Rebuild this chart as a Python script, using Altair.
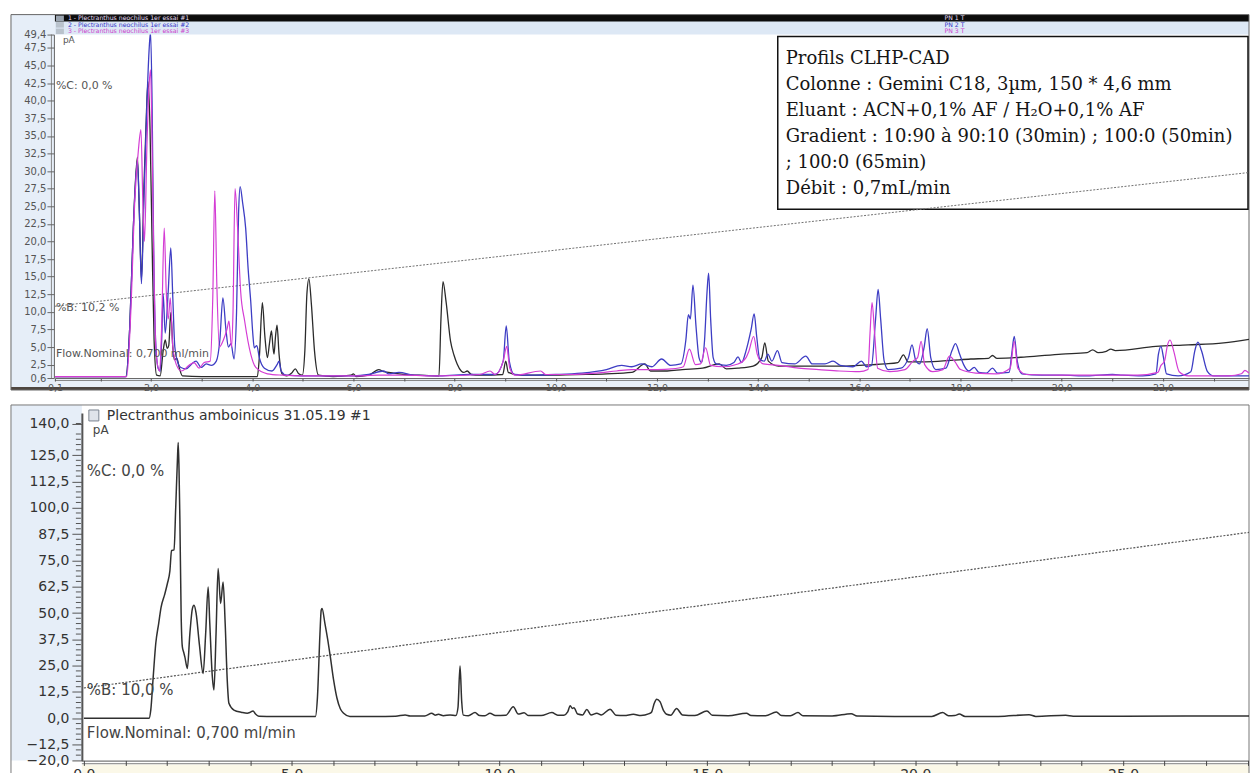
import altair as alt
import pandas as pd

# ---------------------------------------------------------------------------
# Plectranthus neochilus, 1er essai : three injections (time in min, signal in pA)
# ---------------------------------------------------------------------------
pn1 = [(0.1, 0.8), (1.0, 0.8), (1.50, 0.8), (1.58, 8.0), (1.65, 22.0), (1.73, 32.0), (1.77, 24.0),
       (1.81, 14.5), (1.86, 28.0), (1.91, 38.5), (1.94, 42.7), (1.98, 36.0), (2.02, 20.0), (2.06, 6.0),
       (2.11, 1.0), (2.18, 0.9), (2.24, 4.5), (2.28, 6.0), (2.32, 4.8), (2.35, 5.2), (2.39, 9.9),
       (2.43, 5.0), (2.46, 3.2), (2.51, 3.4), (2.56, 2.0), (2.62, 0.9), (3.0, 0.8), (3.6, 0.8),
       (4.10, 0.8), (4.14, 3.5), (4.20, 11.3), (4.25, 6.5), (4.30, 3.5), (4.34, 5.5), (4.38, 7.3),
       (4.41, 5.0), (4.43, 4.0), (4.46, 6.5), (4.49, 8.1), (4.53, 4.0), (4.59, 1.2), (4.68, 0.9),
       (4.78, 1.3), (4.85, 1.9), (4.92, 1.2), (4.99, 1.0), (5.04, 4.5), (5.08, 12.5), (5.12, 14.7),
       (5.17, 11.0), (5.23, 4.5), (5.31, 1.0), (5.6, 0.8), (5.95, 1.0), (6.0, 1.2), (6.05, 0.8),
       (6.3, 1.0), (6.5, 1.8), (6.6, 1.5), (6.8, 1.3), (7.0, 1.1), (7.3, 1.0), (7.69, 0.9),
       (7.73, 9.0), (7.77, 14.3), (7.83, 11.5), (7.92, 5.8), (7.99, 3.8), (8.05, 2.6), (8.13, 1.6),
       (8.18, 1.4), (8.25, 1.6), (8.33, 1.1), (8.5, 1.0), (8.95, 1.1), (9.01, 3.0), (9.06, 1.4),
       (9.3, 1.0), (9.8, 1.0), (10.4, 1.1), (11.0, 1.2), (11.5, 1.4), (11.76, 2.6), (11.87, 1.6),
       (12.2, 1.6), (12.5, 1.8), (12.9, 2.0), (13.23, 2.6), (13.37, 1.9), (13.6, 2.0), (13.9, 2.3),
       (14.07, 3.5), (14.13, 5.6), (14.20, 3.0), (14.4, 2.3), (14.8, 2.3), (15.2, 2.3), (15.6, 2.3),
       (16.0, 2.4), (16.5, 2.6), (16.76, 2.8), (16.87, 3.9), (16.96, 2.9), (17.3, 2.9), (17.8, 3.1),
       (18.2, 3.3), (18.55, 3.4), (18.63, 3.8), (18.72, 3.4), (19.3, 3.6), (20.0, 4.0), (20.5, 4.2),
       (20.61, 4.6), (20.72, 4.2), (20.88, 4.4), (20.97, 4.7), (21.06, 4.5), (21.86, 5.1),
       (22.5, 5.3), (23.2, 5.6), (23.7, 6.1)]

pn2 = [(0.1, 0.8), (1.50, 0.8), (1.58, 8.0), (1.65, 22.0), (1.73, 31.5), (1.77, 24.0), (1.81, 14.0),
       (1.86, 26.0), (1.92, 40.0), (1.96, 47.0), (1.99, 49.8), (2.02, 40.0), (2.05, 20.0), (2.09, 6.0),
       (2.14, 2.0), (2.18, 1.6), (2.21, 6.0), (2.24, 12.5), (2.28, 7.0), (2.34, 13.0), (2.39, 19.1),
       (2.43, 12.0), (2.47, 5.0), (2.52, 3.0), (2.59, 2.1), (2.69, 1.9), (2.79, 2.5), (2.89, 3.0),
       (2.99, 2.1), (3.09, 2.6), (3.19, 2.4), (3.29, 3.0), (3.36, 6.0), (3.42, 12.0), (3.48, 7.5),
       (3.53, 5.0), (3.58, 5.5), (3.64, 3.3), (3.69, 10.0), (3.73, 24.0), (3.76, 27.8), (3.81, 25.5),
       (3.87, 21.9), (3.92, 16.0), (3.97, 11.5), (4.01, 7.0), (4.04, 4.9), (4.09, 5.2), (4.14, 3.5),
       (4.24, 2.0), (4.39, 1.6), (4.49, 2.5), (4.53, 3.0), (4.57, 1.6), (4.68, 1.0), (5.0, 0.9),
       (6.0, 0.9), (6.3, 1.1), (6.6, 1.6), (6.7, 1.2), (6.9, 1.4), (7.2, 1.0), (7.7, 0.9), (8.3, 1.1),
       (8.8, 1.1), (8.96, 3.0), (9.02, 8.0), (9.08, 3.0), (9.18, 1.1), (9.5, 1.0), (10.0, 1.1),
       (10.5, 1.3), (11.0, 1.8), (11.3, 2.4), (11.5, 2.2), (11.7, 2.6), (11.9, 2.2), (12.09, 3.3),
       (12.27, 2.4), (12.47, 2.6), (12.57, 6.0), (12.62, 9.6), (12.66, 9.0), (12.71, 13.8),
       (12.77, 8.0), (12.83, 3.5), (12.88, 2.8), (12.94, 6.0), (12.99, 13.0), (13.02, 15.5),
       (13.06, 9.0), (13.11, 3.5), (13.17, 2.6), (13.37, 2.4), (13.52, 2.8), (13.60, 3.6),
       (13.67, 2.8), (13.76, 4.5), (13.80, 5.6), (13.86, 7.5), (13.92, 9.7), (13.97, 6.5),
       (14.03, 3.3), (14.12, 3.0), (14.19, 4.0), (14.27, 3.0), (14.38, 4.5), (14.47, 2.8),
       (14.72, 2.6), (14.94, 3.7), (15.07, 2.6), (15.32, 2.6), (15.48, 3.0), (15.62, 2.4),
       (15.87, 2.2), (16.04, 3.0), (16.14, 2.2), (16.24, 2.4), (16.32, 9.0), (16.37, 13.2),
       (16.42, 9.0), (16.49, 3.0), (16.57, 1.8), (16.82, 2.0), (16.97, 3.5), (17.04, 5.3),
       (17.11, 3.2), (17.19, 2.6), (17.28, 5.0), (17.34, 7.6), (17.41, 3.5), (17.51, 1.8),
       (17.71, 2.0), (17.83, 4.5), (17.90, 5.5), (17.98, 4.0), (18.06, 2.5), (18.16, 1.6),
       (18.27, 2.1), (18.36, 1.4), (18.51, 1.3), (18.63, 2.0), (18.73, 1.3), (18.96, 1.4),
       (19.01, 4.0), (19.06, 6.5), (19.12, 3.0), (19.21, 1.2), (19.6, 1.0), (20.0, 1.0), (20.5, 0.9),
       (21.0, 1.1), (21.2, 1.0), (21.6, 0.9), (21.86, 1.2), (21.91, 4.0), (21.96, 5.1), (22.01, 3.5),
       (22.07, 1.2), (22.3, 0.9), (22.55, 1.5), (22.63, 4.5), (22.69, 5.7), (22.76, 4.5),
       (22.88, 1.5), (23.0, 0.9), (23.7, 0.9)]

pn3 = [(0.1, 0.8), (1.52, 0.8), (1.60, 10.0), (1.68, 26.0), (1.75, 33.0), (1.80, 35.9), (1.84, 25.0),
       (1.87, 20.0), (1.92, 34.0), (1.96, 42.0), (1.99, 44.4), (2.02, 34.0), (2.06, 15.0), (2.10, 4.0),
       (2.17, 1.6), (2.21, 8.0), (2.26, 21.9), (2.30, 13.0), (2.34, 9.0), (2.38, 12.0), (2.43, 5.0),
       (2.50, 2.5), (2.60, 1.6), (2.75, 2.4), (2.85, 2.8), (2.95, 2.0), (3.05, 2.8), (3.17, 3.0),
       (3.22, 12.0), (3.26, 27.2), (3.30, 14.0), (3.35, 5.0), (3.43, 6.0), (3.50, 7.5), (3.54, 8.7),
       (3.59, 5.0), (3.62, 10.0), (3.66, 27.5), (3.71, 22.0), (3.77, 13.0), (3.85, 8.7), (3.97, 4.0),
       (4.07, 2.1), (4.3, 1.2), (4.6, 1.0), (5.0, 0.9), (6.0, 0.9), (6.5, 1.0), (7.0, 1.0), (7.7, 0.9),
       (8.5, 1.1), (8.7, 1.6), (8.8, 1.1), (8.96, 3.0), (9.03, 5.1), (9.09, 2.0), (9.2, 1.0),
       (9.7, 1.6), (9.8, 1.1), (10.3, 1.1), (10.8, 1.3), (11.2, 1.6), (11.5, 1.8), (12.0, 1.8),
       (12.3, 1.9), (12.52, 2.2), (12.64, 4.7), (12.76, 2.5), (12.86, 2.6), (12.96, 4.9),
       (13.06, 2.4), (13.3, 2.2), (13.6, 2.6), (13.76, 3.5), (13.81, 4.3), (13.91, 6.5), (13.98, 4.0),
       (14.1, 2.6), (14.4, 2.4), (14.8, 2.0), (15.2, 1.8), (15.6, 1.6), (16.0, 1.5), (16.17, 1.8),
       (16.21, 7.0), (16.25, 11.3), (16.30, 7.0), (16.36, 2.0), (16.6, 1.5), (16.9, 1.8),
       (17.06, 3.0), (17.15, 3.5), (17.22, 5.8), (17.29, 2.5), (17.45, 1.5), (17.65, 1.8),
       (17.78, 3.7), (17.88, 3.0), (18.0, 1.8), (18.3, 1.3), (18.7, 1.2), (18.98, 2.0), (19.06, 5.8),
       (19.13, 2.0), (19.3, 1.1), (20.0, 1.0), (20.8, 1.0), (21.5, 1.0), (21.9, 1.4), (21.96, 2.4),
       (22.03, 3.0), (22.09, 5.3), (22.14, 6.0), (22.21, 4.5), (22.32, 1.5), (22.5, 0.9),
       (23.3, 0.9), (23.55, 1.2), (23.62, 1.7), (23.7, 1.3)]

# %B gradient trace, drawn on the pA scale
grad_pn = [(0.1, 10.8), (23.7, 29.8)]

# ---------------------------------------------------------------------------
# Plectranthus amboinicus 31.05.19 #1
# ---------------------------------------------------------------------------
pa = [(0.0, 0.0), (1.0, 0.0), (1.57, 0.0), (1.61, 3.9), (1.67, 20.0), (1.73, 35.5), (1.80, 45.0),
      (1.86, 52.9), (1.94, 58.5), (2.01, 64.0), (2.07, 70.0), (2.11, 79.7), (2.17, 80.0),
      (2.21, 100.0), (2.25, 122.0), (2.27, 131.0), (2.29, 118.0), (2.31, 95.0), (2.34, 50.0),
      (2.37, 33.9), (2.40, 31.5), (2.43, 29.2), (2.49, 23.7), (2.55, 40.0), (2.61, 52.0),
      (2.65, 53.7), (2.70, 50.0), (2.78, 35.0), (2.87, 21.3), (2.93, 40.0), (2.99, 62.3),
      (3.03, 45.0), (3.09, 20.0), (3.13, 13.4), (3.18, 40.0), (3.23, 71.1), (3.29, 54.5),
      (3.35, 64.7), (3.40, 45.0), (3.45, 18.0), (3.49, 7.1), (3.61, 3.9), (3.80, 2.8), (3.93, 2.4),
      (4.00, 2.8), (4.07, 3.5), (4.13, 2.0), (4.21, 1.0), (4.6, 0.8), (5.0, 0.8), (5.57, 0.8),
      (5.62, 10.0), (5.68, 40.0), (5.71, 51.3), (5.73, 52.1), (5.80, 45.0), (5.87, 37.0),
      (5.93, 29.2), (6.01, 18.0), (6.09, 9.5), (6.17, 4.5), (6.25, 2.4), (6.4, 0.9), (7.0, 0.9),
      (7.5, 1.0), (7.73, 1.6), (7.85, 1.1), (8.2, 1.1), (8.37, 2.4), (8.45, 1.5), (8.53, 1.9),
      (8.65, 1.2), (8.81, 1.6), (8.95, 1.3), (9.00, 5.0), (9.05, 24.8), (9.09, 8.0), (9.13, 1.5),
      (9.25, 1.2), (9.41, 2.7), (9.52, 1.3), (9.65, 1.2), (9.77, 2.4), (9.90, 1.3), (10.15, 1.4),
      (10.33, 5.5), (10.45, 2.0), (10.59, 2.6), (10.70, 1.3), (11.0, 1.3), (11.26, 2.7),
      (11.40, 1.5), (11.55, 1.5), (11.64, 3.0), (11.70, 6.0), (11.75, 4.7), (11.79, 5.0),
      (11.88, 2.0), (12.00, 1.6), (12.10, 4.2), (12.20, 1.6), (12.34, 2.4), (12.45, 1.6),
      (12.66, 4.3), (12.80, 1.5), (13.00, 1.3), (13.22, 1.9), (13.40, 1.3), (13.60, 2.2),
      (13.66, 3.0), (13.72, 7.0), (13.78, 9.1), (13.86, 7.9), (13.95, 3.5), (14.02, 1.9),
      (14.12, 1.5), (14.26, 4.6), (14.40, 1.6), (14.70, 1.3), (14.99, 3.5), (15.12, 1.4),
      (15.50, 1.2), (15.94, 2.4), (16.05, 1.3), (16.40, 1.2), (16.66, 3.0), (16.78, 1.3),
      (17.00, 1.2), (17.18, 2.7), (17.30, 1.2), (18.0, 1.1), (18.46, 2.2), (18.6, 1.1), (19.5, 0.9),
      (20.4, 0.9), (20.66, 2.7), (20.80, 1.2), (20.95, 1.3), (21.06, 2.0), (21.2, 0.9), (22.0, 0.9),
      (22.74, 1.7), (22.9, 0.9), (23.62, 1.4), (23.8, 1.0), (25.0, 1.0), (26.5, 1.1), (28.03, 1.1)]

grad_pa = [(0.0, 14.4), (28.03, 88.3)]

# axis tick values
top_x_ticks = [0.1] + list(range(1, 24))
top_y_ticks = [0.6, 2.5, 5.0, 7.5, 10.0, 12.5, 15.0, 17.5, 20.0, 22.5, 25.0, 27.5, 30.0,
               32.5, 35.0, 37.5, 40.0, 42.5, 45.0, 47.5, 49.4]
bot_x_ticks = list(range(0, 29))
bot_y_ticks = [-20.0, -12.5, 0.0, 12.5, 25.0, 37.5, 50.0, 62.5, 75.0, 87.5, 100.0, 112.5, 125.0, 140.0]
bot_y_minor = [v / 2 for v in range(-35, 281, 5) if (v / 2) % 12.5 != 0]

legend_rows = ["1 - Plectranthus neochilus 1er essai #1",
               "2 - Plectranthus neochilus 1er essai #2",
               "3 - Plectranthus neochilus 1er essai #3"]
legend_tags = ["PN 1 T", "PN 2 T", "PN 3 T"]

info_lines = ["Profils CLHP-CAD",
              "Colonne : Gemini C18, 3µm, 150 * 4,6 mm",
              "Eluant : ACN+0,1% AF / H₂O+0,1% AF",
              "Gradient : 10:90 à 90:10 (30min) ; 100:0 (50min)",
              "; 100:0 (65min)",
              "Débit : 0,7mL/min"]

# ---------------------------------------------------------------------------
C_BLACK, C_BLUE, C_MAG = "#2b2b2b", "#3d3dc4", "#d43cd4"
SANS = "DejaVu Sans"
W = 1196
H_TOP, H_BOT = 344, 348
one = pd.DataFrame({"k": [0]})
comma = "replace(format(datum.value, '.1f'), '.', ',')"


def box(x, x2, y, y2, fill=None, stroke=None, sw=1.0):
    kw = {"strokeWidth": sw}
    if fill is None:
        kw["fillOpacity"] = 0
    else:
        kw["fill"] = fill
    if stroke is not None:
        kw["stroke"] = stroke
    else:
        kw["strokeWidth"] = 0
    return alt.Chart(one).mark_rect(**kw).encode(
        x=alt.value(x), x2=alt.value(x2), y=alt.value(y), y2=alt.value(y2))


def note(txt, x, y, size, color="#444", font=SANS, align="left"):
    return alt.Chart(one).mark_text(text=txt, align=align, baseline="middle", fontSize=size,
                                    font=font, color=color).encode(x=alt.value(x), y=alt.value(y))


def curve(points, color, xs, ys, ax_x, ax_y, width=1.3, dash=None):
    df = pd.DataFrame(points, columns=["t", "pa"])
    kw = dict(color=color, strokeWidth=width, clip=True)
    if dash:
        kw["strokeDash"] = dash
    else:
        kw["interpolate"] = "monotone"
    return alt.Chart(df).mark_line(**kw).encode(
        x=alt.X("t:Q", scale=xs, axis=ax_x),
        y=alt.Y("pa:Q", scale=ys, axis=ax_y))


# ---------------------------- upper panel ---------------------------------
xs_top = alt.Scale(domain=[0.1, 23.7], nice=False, zero=False)
ys_top = alt.Scale(domain=[0.6, 49.4], nice=False, zero=False)

ax_top_x = alt.Axis(values=top_x_ticks, title=None, grid=False, domainColor="#666",
                    tickColor="#555", tickSize=3, labelFont=SANS, labelFontSize=9.5,
                    labelColor="#555", labelPadding=1, labelOverlap=False, labelFlush=False,
                    zindex=2,
                    labelExpr="(datum.value < 0.5 || datum.value % 2 == 0) ? " + comma + " : ''")
ax_top_y = alt.Axis(values=top_y_ticks, title=None, grid=False, domainColor="#666",
                    tickColor="#666", tickSize=7, labelFont=SANS, labelFontSize=10,
                    labelColor="#555", labelPadding=1, labelOverlap=False, offset=1,
                    zindex=2, labelExpr=comma)

top_layers = [
    box(-44, 0, -20, 353, fill="#e6eef8"),
    box(0, W, -20, 0, fill="#dde8f5"),
    box(0, W, -19.5, -13, fill="#0c0c0c"),
    box(0, W, 344, 353, fill="#eaf0f7"),
    box(-44, W, 353, 356, fill="#4e4640"),
    box(-44, W, -20, 356, stroke="#666"),
    box(-4, -3, 0, 344, fill="#888"),
    box(0, W, 346, 347, fill="#888"),
    box(1, 9, -19, -13.5, fill="#9aa4b0"),
    box(1, 9, -12.5, -7, fill="#b9c2cc"),
    box(1, 9, -6, -0.5, fill="#b9c2cc"),
    box(724, 1195, 2, 175, fill="white", stroke="#111", sw=1.5),
    curve(grad_pn, "#707070", xs_top, ys_top, ax_top_x, ax_top_y, width=1, dash=[2, 1.5]),
    curve(pn1, C_BLACK, xs_top, ys_top, ax_top_x, ax_top_y),
    curve(pn2, C_BLUE, xs_top, ys_top, ax_top_x, ax_top_y),
    curve(pn3, C_MAG, xs_top, ys_top, ax_top_x, ax_top_y, width=1.2),
    note("pA", 8, 5, 9, "#555"),
    note("%C: 0,0 %", 1, 52, 11, "#555"),
    note("%B: 10,2 %", 1, 274, 11, "#555"),
    note("Flow.Nominal: 0,700 ml/min", 1, 320, 11, "#555"),
    note(legend_rows[0], 13, -16.2, 6.2, "#e6dcf5"),
    note(legend_rows[1], 13, -9.7, 6.2, "#3535c8"),
    note(legend_rows[2], 13, -3.2, 6.2, "#cc40cc"),
    note(legend_tags[0], 891, -16.2, 6.2, "#e6dcf5"),
    note(legend_tags[1], 891, -9.7, 6.2, "#3535c8"),
    note(legend_tags[2], 891, -3.2, 6.2, "#cc40cc"),
]
for i, line in enumerate(info_lines):
    top_layers.append(note(line, 732, 24 + 26.2 * i, 18, "#151515", font="DejaVu Serif"))

top = alt.layer(*top_layers).properties(width=W, height=H_TOP)

# ---------------------------- lower panel ---------------------------------
xs_bot = alt.Scale(domain=[-0.696, 28.03], nice=False, zero=False)
ys_bot = alt.Scale(domain=[-20, 145], nice=False, zero=False)

ax_bot_x = alt.Axis(values=bot_x_ticks, title=None, grid=False, domain=False,
                    tickColor="#444", tickSize=5, labelFont=SANS, labelFontSize=14,
                    labelColor="#333", labelPadding=2, labelOverlap=False, labelFlush=False,
                    zindex=2, labelExpr="datum.value % 5 == 0 ? " + comma + " : ''")
ax_bot_y = alt.Axis(values=bot_y_ticks, title=None, grid=False, domainColor="#555",
                    domainWidth=2, tickColor="#555", tickSize=10, labelFont=SANS,
                    labelFontSize=14, labelColor="#333", labelPadding=3, labelOverlap=False,
                    offset=-27, zindex=2, labelExpr=comma)

minor_df = pd.DataFrame({"v": bot_y_minor})
minor = alt.Chart(minor_df).mark_rule(color="#555", strokeWidth=1).encode(
    y=alt.Y("v:Q", scale=ys_bot, axis=ax_bot_y), x=alt.value(21), x2=alt.value(26))

bot_layers = [
    box(-44, 27, -8, 348, fill="#e6eef8"),
    box(27, W, 352, 362, fill="#fbf8e8"),
    box(-44, W, -8, 362, stroke="#777"),
    box(27, W, 348, 349.3, fill="#777"),
    box(27, W, 350.5, 351.8, fill="#999"),
    box(34, 44, -3, 8, fill="#dfe4ea", stroke="#7a8490"),
    minor,
    curve(grad_pa, "#555", xs_bot, ys_bot, ax_bot_x, ax_bot_y, width=1.2, dash=[2, 1.5]),
    curve(pa, "#303030", xs_bot, ys_bot, ax_bot_x, ax_bot_y, width=1.5),
    note("Plectranthus amboinicus 31.05.19 #1", 52, 3, 14, "#333"),
    note("pA", 38, 17, 12, "#444"),
    note("%C: 0,0 %", 32, 58, 15, "#444"),
    note("%B: 10,0 %", 32, 277, 15, "#444"),
    note("Flow.Nominal: 0,700 ml/min", 32, 321, 15, "#444"),
]
bottom = alt.layer(*bot_layers).properties(width=W, height=H_BOT)

chart = alt.vconcat(top, bottom, spacing=12).properties(
    padding={"left": 10, "top": 13, "right": 0, "bottom": 0},
    background="white",
).configure_view(stroke=None)

chart.save("out.html", embed_options={"renderer": "svg", "actions": False})
